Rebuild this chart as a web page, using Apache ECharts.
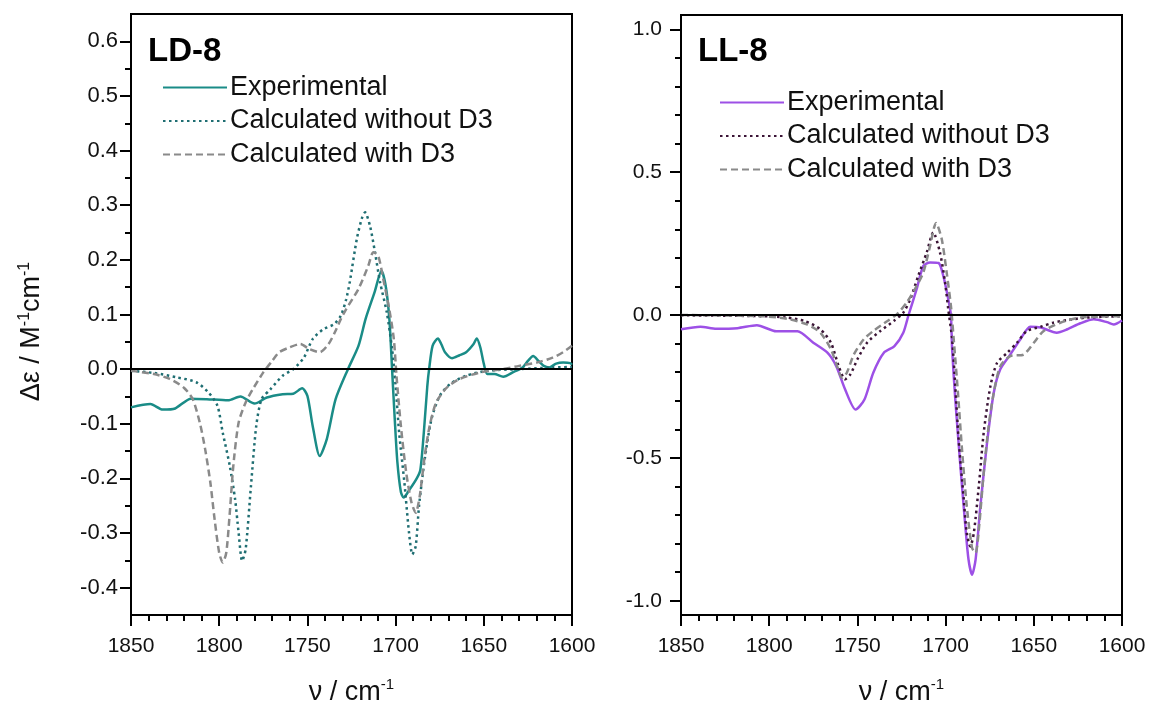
<!DOCTYPE html>
<html>
<head>
<meta charset="utf-8">
<script src="https://cdn.jsdelivr.net/npm/echarts@6/dist/echarts.min.js"></script>
<style>
html,body{margin:0;padding:0;background:#fff;}
#chart{width:1151px;height:702px;}
</style>
</head>
<body>
<div id="chart"></div>
<script>
// ---------- DATA ----------
const panelTitles = ['LD-8', 'LL-8'];
const legendNames = ['Experimental', 'Calculated without D3', 'Calculated with D3'];
const xTickLabels = [1850, 1800, 1750, 1700, 1650, 1600];

const ldYLabels = [-0.4, -0.3, -0.2, -0.1, 0.0, 0.1, 0.2, 0.3, 0.4, 0.5, 0.6];
const ldYMinor = [-0.4, -0.35, -0.3, -0.25, -0.2, -0.15, -0.1, -0.05, 0.0, 0.05, 0.1, 0.15, 0.2, 0.25, 0.3, 0.35, 0.4, 0.45, 0.5, 0.55, 0.6];
const llYLabels = [-1.0, -0.5, 0.0, 0.5, 1.0];
const llYMinor = [-1.0, -0.9, -0.8, -0.7, -0.6, -0.5, -0.4, -0.3, -0.2, -0.1, 0.0, 0.1, 0.2, 0.3, 0.4, 0.5, 0.6, 0.7, 0.8, 0.9, 1.0];

const ldExperimental = [[1850,-0.070],[1839,-0.064],[1832,-0.074],[1825,-0.072],[1816,-0.054],[1807,-0.055],[1795,-0.057],[1788,-0.050],[1780,-0.063],[1773,-0.052],[1764,-0.046],[1758,-0.045],[1753,-0.035],[1750,-0.049],[1747,-0.104],[1743,-0.159],[1739,-0.128],[1734,-0.055],[1727,0.0],[1721,0.043],[1717,0.092],[1712,0.14],[1708,0.18],[1705.5,0.15],[1703.5,0.09],[1702,0.0],[1700.5,-0.09],[1699,-0.17],[1697,-0.225],[1695.5,-0.235],[1692,-0.22],[1688,-0.2],[1686,-0.185],[1684,-0.116],[1682,-0.03],[1681,0.0],[1679,0.043],[1676,0.056],[1674,0.045],[1672,0.031],[1668,0.02],[1664,0.025],[1660,0.031],[1656,0.045],[1654,0.056],[1652,0.04],[1650,0.01],[1648,-0.009],[1644,-0.009],[1639,-0.014],[1633,-0.005],[1628,0.003],[1625,0.015],[1622,0.024],[1619,0.015],[1616,0.006],[1613,0.003],[1609,0.010],[1605,0.012],[1601,0.011],[1600,0.008]];
const ldWithoutD3 = [[1850,-0.003],[1837,-0.007],[1824,-0.015],[1813,-0.024],[1806,-0.043],[1801,-0.067],[1798,-0.116],[1794,-0.177],[1791,-0.238],[1789,-0.299],[1787,-0.351],[1785,-0.33],[1782,-0.214],[1779,-0.104],[1776,-0.055],[1771,-0.037],[1764,-0.012],[1758,0.0],[1752,0.021],[1747,0.055],[1741,0.073],[1735,0.082],[1731,0.098],[1728,0.128],[1726,0.159],[1722,0.238],[1719.2,0.275],[1717.3,0.287],[1714.5,0.262],[1711.7,0.214],[1708.8,0.159],[1705,0.104],[1702,0.037],[1700,-0.03],[1698,-0.116],[1695,-0.208],[1692.4,-0.299],[1690.5,-0.339],[1688.6,-0.324],[1686.7,-0.25],[1683.5,-0.165],[1679.7,-0.092],[1675,-0.049],[1669,-0.027],[1660,-0.012],[1648,-0.003],[1630,0.0],[1611,0.003],[1600,0.004]];
const ldWithD3 = [[1850,-0.003],[1837,-0.009],[1828,-0.018],[1820,-0.034],[1815,-0.055],[1811,-0.098],[1808,-0.146],[1805,-0.208],[1802.6,-0.275],[1800,-0.336],[1798,-0.354],[1796,-0.336],[1794,-0.263],[1792,-0.177],[1789,-0.098],[1785,-0.061],[1781,-0.037],[1775,-0.006],[1770,0.015],[1766,0.031],[1760,0.040],[1754,0.046],[1749,0.037],[1743,0.031],[1738,0.046],[1734.5,0.067],[1731,0.092],[1728,0.11],[1721,0.147],[1715.5,0.189],[1712.6,0.214],[1709.8,0.207],[1707,0.165],[1703.6,0.110],[1701,0.055],[1699.5,-0.012],[1697,-0.104],[1694,-0.189],[1691,-0.244],[1688.6,-0.263],[1686.3,-0.232],[1683.5,-0.159],[1680.7,-0.104],[1677,-0.061],[1671,-0.034],[1663.7,-0.018],[1652,-0.006],[1639,0.0],[1630,0.006],[1620,0.012],[1611,0.021],[1605,0.031],[1600,0.043]];

const llExperimental = [[1850,-0.050],[1839,-0.041],[1830,-0.048],[1818,-0.046],[1807,-0.036],[1796,-0.057],[1784,-0.057],[1775,-0.097],[1767,-0.132],[1762,-0.179],[1757,-0.26],[1751,-0.331],[1746,-0.296],[1741,-0.202],[1735,-0.132],[1729,-0.109],[1724,-0.062],[1721,0.0],[1716.4,0.091],[1712.6,0.172],[1708.8,0.184],[1704,0.182],[1701.3,0.137],[1698.5,0.056],[1697,0.0],[1696.3,-0.12],[1694.5,-0.296],[1691.6,-0.53],[1688.8,-0.74],[1687,-0.856],[1685,-0.909],[1683,-0.856],[1680.3,-0.67],[1676.5,-0.447],[1672.7,-0.272],[1669,-0.19],[1663.3,-0.138],[1657.6,-0.085],[1652,-0.041],[1646,-0.044],[1637,-0.062],[1631,-0.05],[1623.6,-0.029],[1616,-0.015],[1608.5,-0.025],[1604.7,-0.033],[1600,-0.019]];
const llWithoutD3 = [[1850,-0.001],[1805,-0.004],[1790,-0.009],[1780,-0.021],[1771,-0.05],[1765,-0.097],[1760.6,-0.179],[1757,-0.225],[1754,-0.208],[1750,-0.155],[1744.5,-0.097],[1737,-0.056],[1729.4,-0.021],[1724,0.008],[1720,0.056],[1715.5,0.137],[1710.7,0.219],[1707,0.289],[1703.2,0.219],[1700.3,0.114],[1698.5,0.021],[1696.3,-0.085],[1694.5,-0.249],[1692.6,-0.436],[1690,-0.623],[1688,-0.763],[1686,-0.81],[1684,-0.763],[1681,-0.588],[1678.4,-0.412],[1674.6,-0.249],[1670.8,-0.167],[1665,-0.132],[1659.5,-0.097],[1654,-0.056],[1646,-0.041],[1639,-0.027],[1631,-0.018],[1620,-0.009],[1600,-0.004]];
const llWithD3 = [[1850,0.0],[1805,-0.004],[1790,-0.013],[1778.6,-0.033],[1771,-0.062],[1765,-0.12],[1761.5,-0.179],[1758.7,-0.22],[1756,-0.202],[1752,-0.138],[1746.4,-0.085],[1741,-0.056],[1733,-0.021],[1727.5,0.003],[1722,0.044],[1717,0.095],[1712.6,0.149],[1708.8,0.242],[1705.4,0.322],[1702.2,0.266],[1699.4,0.149],[1697,0.033],[1695.4,-0.085],[1693,-0.272],[1690.7,-0.471],[1688,-0.669],[1685,-0.815],[1683,-0.833],[1681,-0.74],[1678.4,-0.553],[1675.6,-0.389],[1672.7,-0.272],[1669,-0.179],[1663.3,-0.144],[1655.7,-0.138],[1650,-0.097],[1644.4,-0.056],[1635,-0.027],[1623.6,-0.009],[1600,-0.004]];

// ---------- STYLE ----------
const FONT = '"Liberation Sans", Arial, sans-serif';
const C = {
  teal: '#1a8c87', tealDot: '#1f6e72', gray: '#8a8a8a',
  purple: '#9d50e6', darkDot: '#3b1436'
};
const DOT = [2.5, 3.5];
const DASH = [7, 4];

function xAxisFor(gi) {
  return {
    gridIndex: gi, type: 'value', min: 1600, max: 1850, interval: 50, inverse: true,
    axisLine: { show: true, onZero: false, lineStyle: { color: '#000', width: 2 } },
    axisTick: { show: true, length: 11, lineStyle: { color: '#000', width: 2 } },
    minorTick: { show: true, splitNumber: 5, length: 6, lineStyle: { color: '#000', width: 2 } },
    axisLabel: { color: '#111', fontSize: 21, fontFamily: FONT, margin: 21,
      formatter: v => (xTickLabels.indexOf(v) >= 0 ? String(v) : '') },
    splitLine: { show: false },
    name: 'ν / cm{sup|-1}', nameLocation: 'middle', nameGap: 62,
    nameTextStyle: { color: '#111', fontSize: 27, fontFamily: FONT, lineHeight: 32,
      rich: { sup: { fontSize: 15, fontFamily: FONT, color: '#111', verticalAlign: 'top', lineHeight: 32 } } }
  };
}
function yMinorAxis(gi, min, max, ticks) {
  return {
    gridIndex: gi, type: 'value', position: 'left', min: min, max: max, interval: 0.05,
    axisLine: { show: true, onZero: false, lineStyle: { color: '#000', width: 2 } },
    axisTick: { show: true, length: 6, customValues: ticks, lineStyle: { color: '#000', width: 2 } },
    axisLabel: { show: false }, splitLine: { show: false }
  };
}
function yMajorAxis(gi, min, max, ticks, margin, fs) {
  return {
    gridIndex: gi, type: 'value', position: 'left', min: min, max: max, interval: 0.05,
    axisLine: { show: false },
    axisTick: { show: true, length: 11, customValues: ticks, lineStyle: { color: '#000', width: 2 } },
    axisLabel: { show: true, customValues: ticks, color: '#111', fontSize: fs, fontFamily: FONT, margin: margin,
      formatter: v => v.toFixed(1) },
    splitLine: { show: false }
  };
}
function line(name, data, xi, yi, color, type, extra) {
  return Object.assign({
    name: name, type: 'line', xAxisIndex: xi, yAxisIndex: yi, data: data,
    symbol: 'none', smooth: 0.25, silent: true,
    lineStyle: { color: color, width: 2.5, type: type },
    itemStyle: { color: color }
  }, extra || {});
}
const zeroLine = {
  markLine: { silent: true, symbol: 'none', label: { show: false },
    lineStyle: { color: '#000', width: 2, type: 'solid' }, data: [{ yAxis: 0 }] }
};

const strip = n => n.replace(/^L[DL]-8 /, '');
const legendBase = {
  orient: 'vertical', itemWidth: 64, itemHeight: 14, itemGap: 6.5, selectedMode: false,
  itemStyle: { opacity: 0, borderWidth: 0 },
  formatter: strip,
  textStyle: { fontSize: 27, lineHeight: 26, color: '#111', fontFamily: FONT, padding: [0, 0, 0, -2] }
};

const option = {
  animation: false,
  textStyle: { fontFamily: FONT },
  title: [
    { text: panelTitles[0], left: 143, top: 30, textStyle: { fontSize: 33, fontWeight: 'bold', color: '#000', fontFamily: FONT } },
    { text: panelTitles[1], left: 693, top: 30, textStyle: { fontSize: 33, fontWeight: 'bold', color: '#000', fontFamily: FONT } }
  ],
  legend: [
    Object.assign({}, legendBase, { left: 157, top: 69, data: legendNames.map(n => 'LD-8 ' + n) }),
    Object.assign({}, legendBase, { left: 714, top: 84, data: legendNames.map(n => 'LL-8 ' + n) })
  ],
  grid: [
    { left: 131, top: 14, width: 441, height: 601, show: true, borderColor: '#000', borderWidth: 2,
      backgroundColor: 'transparent', outerBoundsMode: 'none', containLabel: false },
    { left: 681, top: 15, width: 441, height: 600, show: true, borderColor: '#000', borderWidth: 2,
      backgroundColor: 'transparent', outerBoundsMode: 'none', containLabel: false }
  ],
  xAxis: [xAxisFor(0), xAxisFor(1)],
  yAxis: [
    Object.assign(yMinorAxis(0, -0.45, 0.65, ldYMinor), {
      name: 'Δε / M{sup|-1}cm{sup|-1}', nameLocation: 'middle', nameGap: 84, nameRotate: 90,
      nameTextStyle: { color: '#111', fontSize: 27, fontFamily: FONT, lineHeight: 30, padding: [0, 34, 0, 0],
        rich: { sup: { fontSize: 16, fontFamily: FONT, color: '#111', verticalAlign: 'top', lineHeight: 30 } } }
    }),
    yMajorAxis(0, -0.45, 0.65, ldYLabels, 13, 22),
    yMinorAxis(1, -1.05, 1.05, llYMinor),
    yMajorAxis(1, -1.05, 1.05, llYLabels, 19, 21)
  ],
  series: [
    line('LD-8 ' + legendNames[0], ldExperimental, 0, 0, C.teal, 'solid', zeroLine),
    line('LD-8 ' + legendNames[1], ldWithoutD3, 0, 0, C.tealDot, DOT),
    line('LD-8 ' + legendNames[2], ldWithD3, 0, 0, C.gray, DASH),
    line('LL-8 ' + legendNames[0], llExperimental, 1, 2, C.purple, 'solid', zeroLine),
    line('LL-8 ' + legendNames[1], llWithoutD3, 1, 2, C.darkDot, DOT),
    line('LL-8 ' + legendNames[2], llWithD3, 1, 2, C.gray, DASH)
  ]
};

const chart = echarts.init(document.getElementById('chart'), null, { renderer: 'canvas' });
chart.setOption(option);
</script>
</body>
</html>
